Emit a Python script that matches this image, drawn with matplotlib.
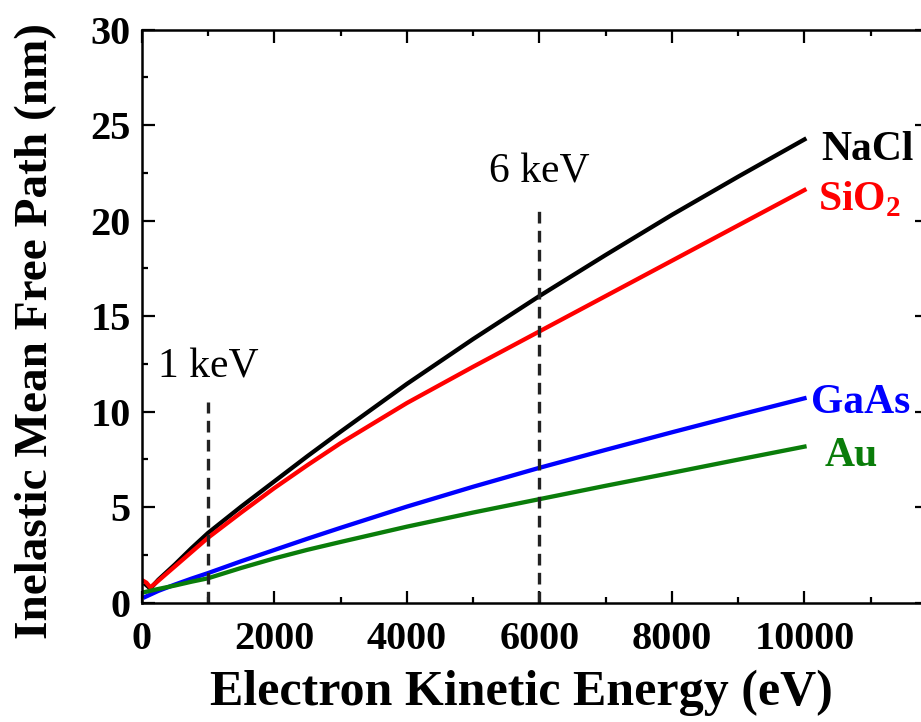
import matplotlib
matplotlib.use("Agg")
import matplotlib.pyplot as plt
from matplotlib.ticker import MultipleLocator

plt.rcParams['font.family'] = ['Liberation Serif', 'DejaVu Serif']
plt.rcParams['mathtext.fontset'] = 'custom'
plt.rcParams['mathtext.rm'] = 'Liberation Serif'
plt.rcParams['mathtext.bf'] = 'Liberation Serif:bold'

# IMFP curves (eV, nm)
energy_nacl = [60, 130, 250, 500, 750, 1000, 1500, 2000, 2500, 3000, 4000, 5000,
               6000, 7000, 8000, 9000, 10000]
imfp_nacl = [0.95, 0.74, 1.2, 2.0, 2.85, 3.65, 5.03, 6.35, 7.67, 8.95, 11.45, 13.8,
             16.05, 18.2, 20.3, 22.3, 24.25]

energy_sio2 = [20, 70, 130, 250, 500, 750, 1000, 1500, 2000, 2500, 3000, 4000, 5000,
               6000, 7000, 8000, 9000, 10000]
imfp_sio2 = [1.15, 1.05, 0.8, 1.15, 1.9, 2.65, 3.4, 4.72, 6.0, 7.2, 8.35, 10.45, 12.35,
             14.2, 16.05, 17.9, 19.75, 21.6]

energy_gaas = [50, 250, 500, 750, 1000, 1500, 2000, 2500, 3000, 4000, 5000, 6000,
               7000, 8000, 9000, 10000]
imfp_gaas = [0.3, 0.62, 0.95, 1.26, 1.55, 2.17, 2.76, 3.35, 3.92, 5.03, 6.07, 7.06,
             8.0, 8.92, 9.82, 10.7]

energy_au = [0, 250, 500, 750, 1000, 1500, 2000, 2500, 3000, 4000, 5000, 6000, 7000,
             8000, 9000, 10000]
imfp_au = [0.52, 0.72, 0.9, 1.1, 1.28, 1.82, 2.32, 2.77, 3.18, 3.98, 4.72, 5.42, 6.12,
           6.8, 7.49, 8.17]

markers_ev = [1000, 6000]
marker_tops = [10.5, 20.7]
marker_text = ['1 keV', '6 keV']
marker_text_y = [11.8, 22.0]

fig = plt.figure(figsize=(9.21, 7.22), dpi=100)
ax = fig.add_axes([0.1539, 0.1652, 0.8527, 0.7939])

lw = 3.1
ax.plot(energy_nacl, imfp_nacl, color='black', lw=lw)
ax.plot(energy_sio2, imfp_sio2, color='#ff0000', lw=lw)
ax.plot(energy_gaas, imfp_gaas, color='#0000ff', lw=lw)
ax.plot(energy_au, imfp_au, color='#0a7d0a', lw=lw)

for xe, top, txt, ty in zip(markers_ev, marker_tops, marker_text, marker_text_y):
    ax.plot([xe, xe], [0, top], color='#222222', lw=2.4, ls=(0, (3.5, 2.2)))
    ax.text(xe, ty, txt, ha='center', va='baseline', fontsize=30)

ax.text(10250, 23.7, 'NaCl', color='black', fontsize=30, fontweight='bold', va='center')
ax.text(10200, 21.1, 'SiO$_\\mathbf{2}$', color='#ff0000', fontsize=30, fontweight='bold', va='center')
ax.text(10100, 10.45, 'GaAs', color='#0000ff', fontsize=30, fontweight='bold', va='center')
ax.text(10300, 7.7, 'Au', color='#0a7d0a', fontsize=30, fontweight='bold', va='center')

ax.set_xlim(0, 11850)
ax.set_ylim(0, 30)
ax.xaxis.set_major_locator(MultipleLocator(2000))
ax.xaxis.set_minor_locator(MultipleLocator(1000))
ax.yaxis.set_major_locator(MultipleLocator(5))
ax.yaxis.set_minor_locator(MultipleLocator(2.5))
ax.tick_params(which='both', direction='in', top=True, right=True, width=1.6)
ax.tick_params(which='major', length=9, labelsize=29, pad=8)
ax.tick_params(axis='x', which='major', pad=13)
ax.tick_params(which='minor', length=4.5)
for lab in ax.get_xticklabels() + ax.get_yticklabels():
    lab.set_fontweight('bold')
for sp in ax.spines.values():
    sp.set_linewidth(1.8)

ax.set_xlabel('Electron Kinetic Energy (eV)', fontsize=36, fontweight='bold')
ax.set_ylabel('Inelastic Mean Free Path (nm)', fontsize=34, fontweight='bold')
ax.xaxis.set_label_coords(0.483, -0.117)
ax.yaxis.set_label_coords(-0.108, 0.474)

fig.savefig('out.png', dpi=100)
